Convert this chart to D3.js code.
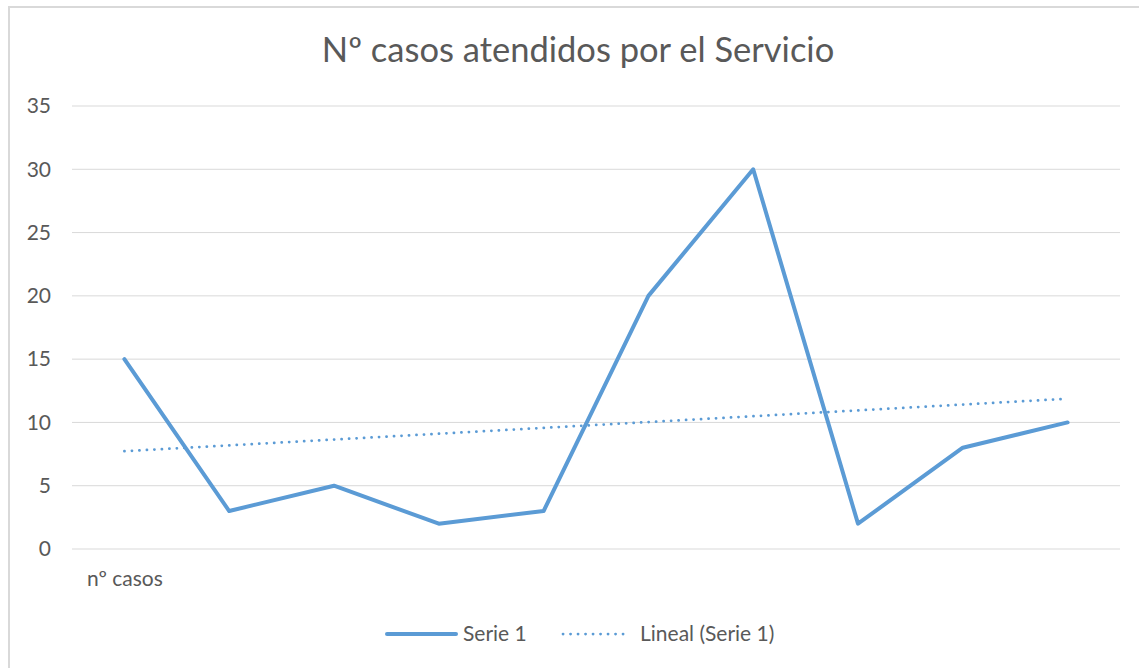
<!DOCTYPE html>
<html>
<head>
<meta charset="utf-8">
<script src="https://cdn.jsdelivr.net/npm/d3@7"></script>
<style>
  body { margin: 0; background: #fff; }
  svg text { font-family: Lato, "Open Sans", sans-serif; fill: #595959; }
</style>
</head>
<body>
<div id="vis"></div>
<script>
// data
var categories = ["nº casos", "", "", "", "", "", "", "", "", ""];
var serie1 = [15, 3, 5, 2, 3, 20, 30, 2, 8, 10];
var yTicks = [0, 5, 10, 15, 20, 25, 30, 35];
var title = "Nº casos atendidos por el Servicio";
var legendNames = ["Serie 1", "Lineal (Serie 1)"];

var width = 1139, height = 668;
var margin = {top: 106, right: 19, bottom: 119, left: 72};
var color = "#5b9bd5";

var svg = d3.select("#vis").append("svg")
    .attr("width", width)
    .attr("height", height);

// chart border
svg.append("rect")
    .attr("x", 9).attr("y", 7)
    .attr("width", 1150).attr("height", 700)
    .attr("fill", "#fff")
    .attr("stroke", "#d9d9d9")
    .attr("stroke-width", 2);

var x = d3.scalePoint()
    .domain(d3.range(categories.length))
    .range([margin.left, width - margin.right])
    .padding(0.5);

var y = d3.scaleLinear()
    .domain([0, 35])
    .range([height - margin.bottom, margin.top]);

// gridlines
svg.append("g")
  .selectAll("line")
  .data(yTicks)
  .enter().append("line")
    .attr("x1", margin.left)
    .attr("x2", width - margin.right)
    .attr("y1", d => y(d))
    .attr("y2", d => y(d))
    .attr("stroke", "#d9d9d9")
    .attr("stroke-width", 1);

// y axis labels
var yAxis = svg.append("g")
    .attr("transform", "translate(" + margin.left + ",0)")
    .call(d3.axisLeft(y).tickValues(yTicks).tickSize(0).tickPadding(21));
yAxis.select(".domain").remove();
yAxis.selectAll("text")
    .style("font-size", "21px")
    .style("font-family", "Lato, sans-serif")
    .attr("fill", "#595959");

// x axis labels
var xAxis = svg.append("g")
    .attr("transform", "translate(0," + y(0) + ")")
    .call(d3.axisBottom(x).tickSize(0).tickPadding(22).tickFormat(i => categories[i]));
xAxis.select(".domain").remove();
xAxis.selectAll("text")
    .style("font-size", "21px")
    .style("font-family", "Lato, sans-serif")
    .attr("fill", "#595959");

// linear trend (least squares of serie1)
var xs = serie1.map((d, i) => i + 1);
var mx = d3.mean(xs), my = d3.mean(serie1);
var slope = d3.sum(xs, (v, i) => (v - mx) * (serie1[i] - my)) / d3.sum(xs, v => (v - mx) * (v - mx));
var intercept = my - slope * mx;
var trend = [0, serie1.length - 1].map(i => ({i: i, v: intercept + slope * (i + 1)}));

var line = d3.line()
    .x(d => x(d.i))
    .y(d => y(d.v));

svg.append("path")
    .datum(trend)
    .attr("d", line)
    .attr("fill", "none")
    .attr("stroke", color)
    .attr("stroke-width", 2.75)
    .attr("stroke-linecap", "round")
    .attr("stroke-dasharray", "0.1 7.4");

svg.append("path")
    .datum(serie1.map((v, i) => ({i: i, v: v})))
    .attr("d", line)
    .attr("fill", "none")
    .attr("stroke", color)
    .attr("stroke-width", 4)
    .attr("stroke-linejoin", "round")
    .attr("stroke-linecap", "round");

// title
svg.append("text")
    .attr("x", 578)
    .attr("y", 62)
    .attr("text-anchor", "middle")
    .style("font-size", "34.5px")
    .text(title);

// legend
var lg = svg.append("g").attr("transform", "translate(0,634)");
lg.append("line")
    .attr("x1", 387).attr("x2", 456)
    .attr("stroke", color).attr("stroke-width", 4).attr("stroke-linecap", "round");
lg.append("text")
    .attr("x", 463).attr("y", 7)
    .style("font-size", "21px")
    .text(legendNames[0]);
lg.append("line")
    .attr("x1", 563).attr("x2", 627)
    .attr("stroke", color).attr("stroke-width", 2.75)
    .attr("stroke-linecap", "round")
    .attr("stroke-dasharray", "0.1 7.4");
lg.append("text")
    .attr("x", 640).attr("y", 7)
    .style("font-size", "21px")
    .text(legendNames[1]);
</script>
</body>
</html>
